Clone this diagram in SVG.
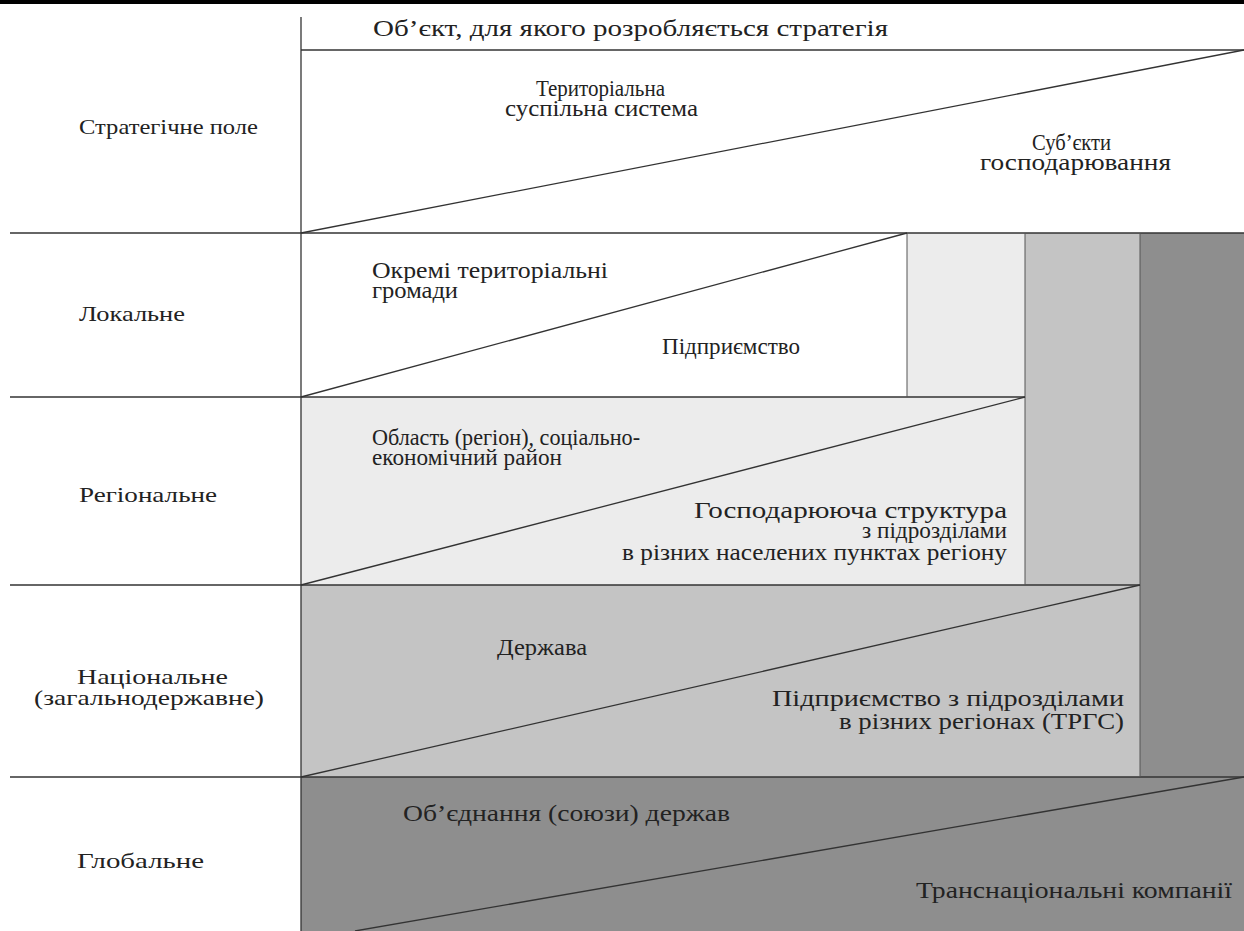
<svg xmlns="http://www.w3.org/2000/svg" width="1244" height="931" viewBox="0 0 1244 931">
<style>
.t{font-family:"Liberation Serif","Times New Roman",serif;font-size:24px;fill:#222}
.lab{font-family:"Liberation Serif","Times New Roman",serif;font-size:22px;fill:#222}
.ln{stroke:#333;stroke-width:1.3;fill:none}
.sep{stroke:#555;stroke-width:1;fill:none}
.l1{fill:#ececec}
.l2{fill:#c4c4c4}
.l3{fill:#8e8e8e}
</style>
<rect width="1244" height="931" fill="#ffffff"/>
<rect x="0" y="0" width="1244" height="4" fill="#000"/>
<g id="fills">
<rect class="l1" x="907" y="233" width="118" height="164"/>
<rect class="l1" x="301" y="397" width="724" height="188"/>
<rect class="l2" x="1025" y="233" width="115" height="352"/>
<rect class="l2" x="301" y="585" width="839" height="192"/>
<rect class="l3" x="1140" y="233" width="104" height="544"/>
<rect class="l3" x="301" y="777" width="943" height="154"/>
</g>
<g id="connectors">
<line class="ln" x1="301" y1="17" x2="301" y2="931"/>
<line class="ln" x1="301" y1="50" x2="1244" y2="50"/>
<line class="ln" x1="10" y1="233" x2="1244" y2="233"/>
<line class="ln" x1="10" y1="397" x2="1025" y2="397"/>
<line class="ln" x1="10" y1="585" x2="1140" y2="585"/>
<line class="ln" x1="10" y1="777" x2="1244" y2="777"/>
<line class="sep" x1="907" y1="233" x2="907" y2="397"/>
<line class="sep" x1="1025" y1="233" x2="1025" y2="585"/>
<line class="sep" x1="1140" y1="233" x2="1140" y2="777"/>
<line class="ln" x1="301" y1="233" x2="1244" y2="50"/>
<line class="ln" x1="301" y1="397" x2="907" y2="233"/>
<line class="ln" x1="301" y1="585" x2="1025" y2="397"/>
<line class="ln" x1="301" y1="777" x2="1140" y2="585"/>
<line class="ln" x1="355" y1="931" x2="1244" y2="777"/>
</g>
<g id="header"><text class="t" x="373" y="36" textLength="515" lengthAdjust="spacingAndGlyphs">Об’єкт, для якого розробляється стратегія</text></g>
<g id="row-field">
<text class="lab" x="79" y="134" textLength="179" lengthAdjust="spacingAndGlyphs">Стратегічне поле</text>
<text class="t" x="536" y="96" textLength="129" lengthAdjust="spacingAndGlyphs">Територіальна</text>
<text class="t" x="505" y="116" textLength="193" lengthAdjust="spacingAndGlyphs">суспільна система</text>
<text class="t" x="1032" y="150" textLength="79" lengthAdjust="spacingAndGlyphs">Суб’єкти</text>
<text class="t" x="980" y="170" textLength="191" lengthAdjust="spacingAndGlyphs">господарювання</text>
</g>
<g id="row-local">
<text class="lab" x="79" y="321" textLength="106" lengthAdjust="spacingAndGlyphs">Локальне</text>
<text class="t" x="372" y="278" textLength="236" lengthAdjust="spacingAndGlyphs">Окремі територіальні</text>
<text class="t" x="372" y="298" textLength="86" lengthAdjust="spacingAndGlyphs">громади</text>
<text class="t" x="662" y="354" textLength="138" lengthAdjust="spacingAndGlyphs">Підприємство</text>
</g>
<g id="row-regional">
<text class="lab" x="79" y="502" textLength="138" lengthAdjust="spacingAndGlyphs">Регіональне</text>
<text class="t" x="372" y="445" textLength="268" lengthAdjust="spacingAndGlyphs">Область (регіон), соціально-</text>
<text class="t" x="372" y="465" textLength="190" lengthAdjust="spacingAndGlyphs">економічний район</text>
<text class="t" x="694" y="518" textLength="313" lengthAdjust="spacingAndGlyphs">Господарююча структура</text>
<text class="t" x="862" y="538" textLength="145" lengthAdjust="spacingAndGlyphs">з підрозділами</text>
<text class="t" x="622" y="560" textLength="385" lengthAdjust="spacingAndGlyphs">в різних населених пунктах регіону</text>
</g>
<g id="row-national">
<text class="lab" x="77" y="684" textLength="151" lengthAdjust="spacingAndGlyphs">Національне</text>
<text class="lab" x="34" y="705" textLength="230" lengthAdjust="spacingAndGlyphs">(загальнодержавне)</text>
<text class="t" x="497" y="655" textLength="90" lengthAdjust="spacingAndGlyphs">Держава</text>
<text class="t" x="772" y="706" textLength="352" lengthAdjust="spacingAndGlyphs">Підприємство з підрозділами</text>
<text class="t" x="839" y="729" textLength="285" lengthAdjust="spacingAndGlyphs">в різних регіонах (ТРГС)</text>
</g>
<g id="row-global">
<text class="lab" x="77" y="868" textLength="127" lengthAdjust="spacingAndGlyphs">Глобальне</text>
<text class="t" x="403" y="821" textLength="327" lengthAdjust="spacingAndGlyphs">Об’єднання (союзи) держав</text>
<text class="t" x="916" y="898" textLength="316" lengthAdjust="spacingAndGlyphs">Транснаціональні компанії</text>
</g>
</svg>
